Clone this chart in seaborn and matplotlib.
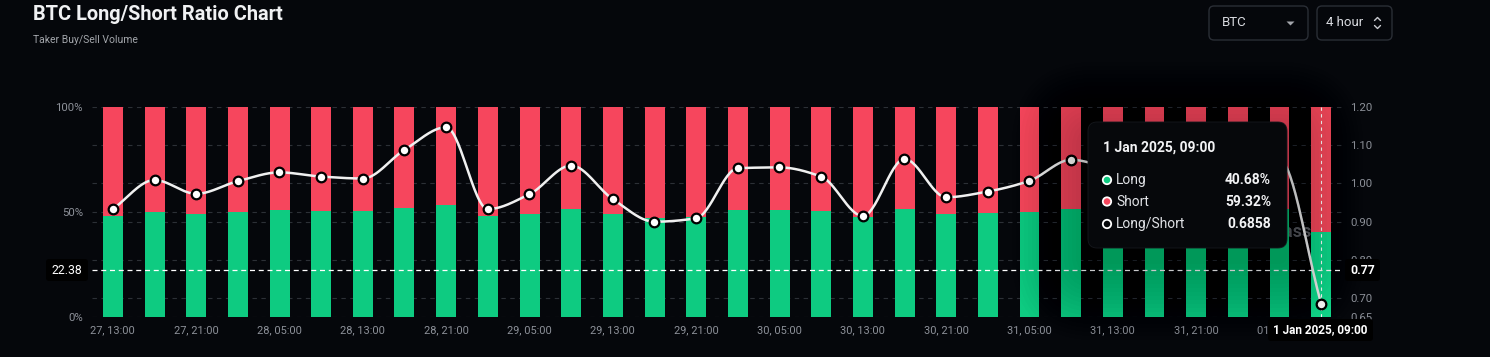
import numpy as np
import pandas as pd
import matplotlib
matplotlib.use("Agg")
import matplotlib.pyplot as plt
import seaborn as sns
from matplotlib.patches import FancyBboxPatch, Circle, Polygon

# ---------------- data ----------------
times = ["27, 13:00", "27, 17:00", "27, 21:00", "28, 01:00", "28, 05:00", "28, 09:00",
         "28, 13:00", "28, 17:00", "28, 21:00", "29, 01:00", "29, 05:00", "29, 09:00",
         "29, 13:00", "29, 17:00", "29, 21:00", "30, 01:00", "30, 05:00", "30, 09:00",
         "30, 13:00", "30, 17:00", "30, 21:00", "31, 01:00", "31, 05:00", "31, 09:00",
         "31, 13:00", "31, 17:00", "31, 21:00", "01, 01:00", "01, 05:00", "01, 09:00"]
long_pct = [48.4, 50.3, 49.3, 50.3, 50.8, 50.5, 50.5, 52.2, 53.5, 48.4,
            49.3, 51.4, 49.0, 47.4, 47.8, 51.2, 51.2, 50.5, 47.9, 51.7,
            49.2, 49.5, 50.3, 51.6, 51.0, 50.6, 50.9, 51.3, 51.6, 40.68]
short_pct = [51.6, 49.7, 50.7, 49.7, 49.2, 49.5, 49.5, 47.8, 46.5, 51.6,
             50.7, 48.6, 51.0, 52.6, 52.2, 48.8, 48.8, 49.5, 52.1, 48.3,
             50.8, 50.5, 49.7, 48.4, 49.0, 49.4, 49.1, 48.7, 48.4, 59.32]
ratio = [0.933, 1.009, 0.973, 1.006, 1.029, 1.018, 1.013, 1.088, 1.147, 0.933,
         0.972, 1.047, 0.959, 0.900, 0.909, 1.040, 1.042, 1.018, 0.915, 1.064,
         0.964, 0.979, 1.007, 1.062, 1.040, 1.030, 1.035, 1.050, 1.062, 0.6858]
tick_labels = ["27, 13:00", "27, 21:00", "28, 05:00", "28, 13:00", "28, 21:00",
               "29, 05:00", "29, 13:00", "29, 21:00", "30, 05:00", "30, 13:00",
               "30, 21:00", "31, 05:00", "31, 13:00", "31, 21:00", "01, 05:00"]
left_ticks = [0, 50, 100]
left_tick_labels = ["0%", "50%", "100%"]
right_ticks = [0.65, 0.70, 0.80, 0.90, 1.00, 1.10, 1.20]
title = "BTC Long/Short Ratio Chart"
subtitle = "Taker Buy/Sell Volume"
hover_label = "1 Jan 2025, 09:00"
cross_left_val = 22.38
cross_right_val = 0.77
symbol = "BTC"
interval = "4 hour"

# ---------------- style ----------------
BG = "#05070b"
GRID = "#2c3036"
GREEN = "#0ecb81"
RED = "#f6465d"
GREEN_H = "#14de8e"
RED_H = "#f8495f"
TXT = "#8d9199"
W, H = 1490, 357

sns.set_style("dark")
plt.rcParams["font.family"] = ["Roboto", "DejaVu Sans"]
plt.rcParams["axes.facecolor"] = BG
plt.rcParams["figure.facecolor"] = BG


def monotone(x, y, xs):
    x = np.asarray(x, float)
    y = np.asarray(y, float)
    h = np.diff(x)
    d = np.diff(y) / h
    n = len(x)
    m = np.zeros(n)
    m[0] = d[0]
    m[-1] = d[-1]
    for k in range(1, n - 1):
        if d[k - 1] * d[k] > 0:
            w1 = 2 * h[k] + h[k - 1]
            w2 = h[k] + 2 * h[k - 1]
            m[k] = (w1 + w2) / (w1 / d[k - 1] + w2 / d[k])
    idx = np.clip(np.searchsorted(x, xs) - 1, 0, n - 2)
    t = (xs - x[idx]) / h[idx]
    h00 = 2 * t**3 - 3 * t**2 + 1
    h10 = t**3 - 2 * t**2 + t
    h01 = -2 * t**3 + 3 * t**2
    h11 = t**3 - t**2
    return h00 * y[idx] + h10 * h[idx] * m[idx] + h01 * y[idx + 1] + h11 * h[idx] * m[idx + 1]


fig = plt.figure(figsize=(W / 100, H / 100), dpi=100, facecolor=BG)
ax = fig.add_axes([92 / W, (H - 317.3) / H, 1250 / W, 210.3 / H])
ax.set_facecolor(BG)

df = pd.DataFrame({"time": times, "long": long_pct, "short": short_pct, "ratio": ratio})
df["total"] = df["long"] + df["short"]
n = len(df)

red_pal = [RED] * (n - 1) + [RED_H]
green_pal = [GREEN] * (n - 1) + [GREEN_H]
sns.barplot(data=df, x="time", y="total", hue="time", palette=red_pal, legend=False,
            width=0.48, saturation=1, errorbar=None, ax=ax, zorder=2, linewidth=0)
sns.barplot(data=df, x="time", y="long", hue="time", palette=green_pal, legend=False,
            width=0.48, saturation=1, errorbar=None, ax=ax, zorder=2, linewidth=0)

# grid lines
grid_pct = [(r - 0.65) / 0.55 * 100 for r in right_ticks] + [50]
for g in grid_pct:
    ax.axhline(g, color=GRID, lw=0.8, ls=(0, (4, 4)), zorder=0.5)

# watermark (behind bars)
ax.text(0.976, 0.405, "CoinGlass", transform=ax.transAxes, ha="right", va="center",
        fontsize=13, fontweight="bold", color="#55585e", zorder=1)

ax.set_ylim(0, 100)
ax.set_yticks(left_ticks)
ax.set_yticklabels(left_tick_labels)
ax.set_xticks(range(0, n, 2))
ax.set_xticklabels(tick_labels)
ax.set_xticks(np.arange(-0.5, n, 2), minor=True)
ax.tick_params(axis="x", which="major", length=0, pad=6, labelsize=7.9, labelcolor=TXT)
ax.tick_params(axis="x", which="minor", length=4, width=0.8, color="#3a3e45")
ax.tick_params(axis="y", length=0, pad=6.5, labelsize=8.2, labelcolor=TXT)
ax.set_xlabel("")
ax.set_ylabel("")
for s in ax.spines.values():
    s.set_visible(False)
ax.grid(False)

# crosshair
ax.axhline(cross_left_val, color="white", lw=0.9, ls=(0, (4, 3)), zorder=3)
ax.axvline(n - 1, color="white", lw=0.8, ls=(0, (3, 3)), zorder=3)

# ratio line
ax2 = ax.twinx()
xs = np.linspace(0, n - 1, 900)
ys = monotone(np.arange(n), ratio, xs)
sns.lineplot(x=xs, y=ys, ax=ax2, color="#f0f0f0", lw=1.8, zorder=3)
sns.scatterplot(x=np.arange(n), y=ratio, ax=ax2, s=48, color="white", edgecolor="black",
                linewidth=1.6, zorder=4)
ax2.set_ylim(0.65, 1.20)
ax2.set_yticks(right_ticks)
ax2.set_yticklabels([f"{v:.2f}" for v in right_ticks])
ax2.tick_params(axis="y", length=0, pad=6, labelsize=8.2, labelcolor=TXT)
ax2.set_ylabel("")
ax2.grid(False)
for s in ax2.spines.values():
    s.set_visible(False)
ax.set_xlim(-0.5, n - 0.5)

# ---------------- overlay (pixel coords) ----------------
ov = fig.add_axes([0, 0, 1, 1], zorder=10)
ov.set_xlim(0, W)
ov.set_ylim(H, 0)
ov.axis("off")
ov.patch.set_visible(False)


def rbox(x, y, w, h, r, **kw):
    p = FancyBboxPatch((x, y), w, h, boxstyle=f"round,pad=0,rounding_size={r}", **kw)
    ov.add_patch(p)
    return p


# title block
ov.text(33, 14, title, fontsize=14.4, fontweight="bold", color="#f0f1f3", ha="left", va="center")
ov.text(33, 40, subtitle, fontsize=7.5, color="#a3a6ab", ha="left", va="center")

# dropdowns
rbox(1209, 6, 99, 34, 5, fc="none", ec="#2a2e35", lw=1)
ov.text(1222, 23, symbol, fontsize=9.5, color="#d8dadf", ha="left", va="center")
ov.add_patch(Polygon([[1286.5, 21.5], [1294.5, 21.5], [1290.5, 25.5]], closed=True, fc="#a3a6ab", ec="none"))
rbox(1317, 6, 75, 34, 5, fc="none", ec="#2a2e35", lw=1)
ov.text(1326, 23, interval, fontsize=9.5, color="#d8dadf", ha="left", va="center")
ov.plot([1374.5, 1377.5, 1380.5], [20.5, 17.5, 20.5], color="#c8cacf", lw=1)
ov.plot([1374.5, 1377.5, 1380.5], [25.5, 28.5, 25.5], color="#c8cacf", lw=1)

# tooltip shadow
for i in range(20):
    e = 4 * i
    rbox(1088 - e, 122 - e + 16, 199 + 2 * e, 126 + 2 * e, 9 + e, fc="black", ec="none", alpha=0.013)

# tooltip box
rbox(1088, 122, 199, 126, 9, fc="#06080b", ec="#15181d", lw=0.6)
ov.text(1103, 148, hover_label, fontsize=10, fontweight="bold", color="#f2f3f5", ha="left", va="center")
rows = [("Long", f"{long_pct[-1]:.2f}%", GREEN, 180),
        ("Short", f"{short_pct[-1]:.2f}%", RED, 201.5),
        ("Long/Short", f"{ratio[-1]:.4f}", "#06080b", 224)]
for lab, val, c, yy in rows:
    ov.add_patch(Circle((1107, yy), 4.2, fc=c, ec="white", lw=1.3))
    ov.text(1116, yy, lab, fontsize=10, color="#dfe1e5", ha="left", va="center")
    ov.text(1271, yy, val, fontsize=10, fontweight="bold", color="#f2f3f5", ha="right", va="center")

# crosshair labels
rbox(46, 259, 42, 22, 3, fc="black", ec="none")
ov.text(67, 270, f"{cross_left_val:.2f}", fontsize=8.8, color="white", ha="center", va="center")
rbox(1345, 259, 35, 22, 3, fc="black", ec="none")
ov.text(1362.5, 270, f"{cross_right_val:.2f}", fontsize=8.8, fontweight="bold", color="white",
        ha="center", va="center")
rbox(1268, 319, 105, 22, 3, fc="black", ec="none")
ov.text(1320.5, 330, hover_label, fontsize=8.5, fontweight="bold", color="white", ha="center", va="center")

fig.savefig("out.png", dpi=100, facecolor=BG)
